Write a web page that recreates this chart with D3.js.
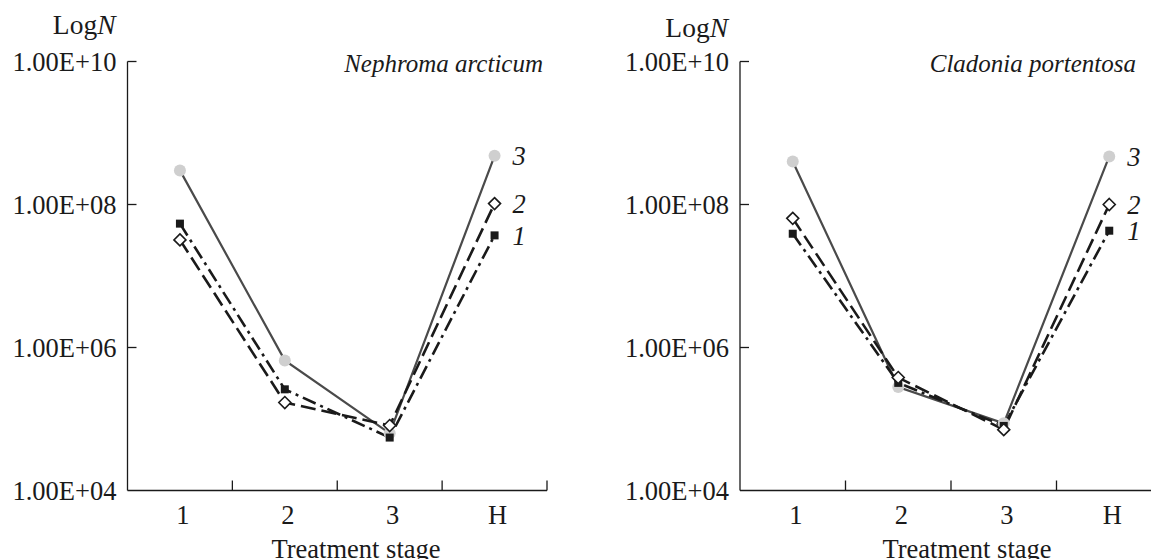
<!DOCTYPE html>
<html><head><meta charset="utf-8">
<script src="https://cdn.jsdelivr.net/npm/d3@7"></script>
<style>
body{margin:0;background:#fff;}
text{font-family:"Liberation Serif","Times New Roman",serif;fill:#1a1a1a;}
</style></head>
<body><svg id="c" width="1151" height="559"></svg>
<script>
const stages = ["1","2","3","H"];
const yTicks = [1e4, 1e6, 1e8, 1e10];
const yTickLabels = ["1.00E+04","1.00E+06","1.00E+08","1.00E+10"];
const seriesNames = ["1","2","3"];
// Nephroma arcticum
const nephroma1 = [5.4e7, 2.6e5, 5.5e4, 3.7e7];
const nephroma2 = [3.2e7, 1.7e5, 8.1e4, 1.03e8];
const nephroma3 = [3.0e8, 6.6e5, 6.3e4, 4.8e8];
// Cladonia portentosa
const cladonia1 = [3.9e7, 3.2e5, 8.0e4, 4.3e7];
const cladonia2 = [6.4e7, 3.8e5, 7.1e4, 1.0e8];
const cladonia3 = [4.0e8, 2.8e5, 8.7e4, 4.7e8];
const titles = ["Nephroma arcticum","Cladonia portentosa"];

const svg = d3.select("#c");

function panel(cfg){
  const g = svg.append("g");
  const x = d3.scaleBand().domain(stages).range([cfg.x0, cfg.x1]).padding(0);
  const y = d3.scaleLog().domain([1e4,1e10]).range([490.5, 61.5]);
  const black = "#1a1a1a";
  g.append("line").attr("x1",cfg.x0).attr("x2",cfg.x0).attr("y1",y(1e10)).attr("y2",y(1e4)).attr("stroke",black).attr("stroke-width",1.3);
  g.append("line").attr("x1",cfg.x0).attr("x2",cfg.x1).attr("y1",y(1e4)).attr("y2",y(1e4)).attr("stroke",black).attr("stroke-width",1.3);
  yTicks.forEach((t,i)=>{
    if(t>1e4) g.append("line").attr("x1",cfg.x0).attr("x2",cfg.x0+9).attr("y1",y(t)).attr("y2",y(t)).attr("stroke",black).attr("stroke-width",1.3);
    g.append("text").attr("x",cfg.x0-11).attr("y",y(t)).attr("dy","0.35em").attr("text-anchor","end").attr("font-size",26.5).text(yTickLabels[i]);
  });
  stages.forEach((s,i)=>{
    const bx = x(s)+x.bandwidth();
    g.append("line").attr("x1",bx).attr("x2",bx).attr("y1",y(1e4)).attr("y2",y(1e4)-10).attr("stroke",black).attr("stroke-width",1.3);
    g.append("text").attr("x",x(s)+x.bandwidth()/2+3).attr("y",524).attr("text-anchor","middle").attr("font-size",26.5).text(s);
  });
  g.append("text").attr("x",cfg.xlabX).attr("y",558).attr("text-anchor","middle").attr("font-size",26.5).text("Treatment stage");
  const ln = g.append("text").attr("x",cfg.x0-12).attr("y",cfg.logY).attr("text-anchor","end").attr("font-size",27.5);
  ln.append("tspan").text("Log");
  ln.append("tspan").attr("font-style","italic").text("N");
  g.append("text").attr("x",cfg.titleX).attr("y",72).attr("text-anchor","end").attr("font-size",25).attr("font-style","italic").text(cfg.title);

  const cx = s => x(s)+x.bandwidth()/2;
  const line = d3.line().x((d,i)=>cx(stages[i])).y(d=>y(d));
  g.append("path").datum(cfg.s3).attr("d",line).attr("fill","none").attr("stroke","#4a4a4a").attr("stroke-width",2.2);
  g.append("path").datum(cfg.s2).attr("d",line).attr("fill","none").attr("stroke",black).attr("stroke-width",2.6).attr("stroke-dasharray","15,6");
  g.append("path").datum(cfg.s1).attr("d",line).attr("fill","none").attr("stroke",black).attr("stroke-width",2.6).attr("stroke-dasharray","14,5,3,5");
  g.selectAll(".m3").data(cfg.s3).enter().append("circle").attr("cx",(d,i)=>cx(stages[i])).attr("cy",d=>y(d)).attr("r",6).attr("fill","#cfcfcf");
  g.selectAll(".m1").data(cfg.s1).enter().append("rect").attr("x",(d,i)=>cx(stages[i])-4).attr("y",d=>y(d)-4).attr("width",8).attr("height",8).attr("fill",black);
  g.selectAll(".m2").data(cfg.s2).enter().append("path").attr("d",(d,i)=>{const px=cx(stages[i]),py=y(d),r=6;return `M${px},${py-r}L${px+r},${py}L${px},${py+r}L${px-r},${py}Z`;}).attr("fill","#fff").attr("stroke",black).attr("stroke-width",1.6);
  const last = stages.length-1;
  [cfg.s1,cfg.s2,cfg.s3].forEach((s,i)=>{
    g.append("text").attr("x",cx(stages[last])+18).attr("y",y(s[last])).attr("dy","0.35em").attr("font-size",26.5).attr("font-style","italic").text(seriesNames[i]);
  });
}

panel({x0:127.5,x1:547,s1:nephroma1,s2:nephroma2,s3:nephroma3,title:titles[0],titleX:543,logY:34,xlabX:356});
panel({x0:740,x1:1162,s1:cladonia1,s2:cladonia2,s3:cladonia3,title:titles[1],titleX:1136,logY:37,xlabX:967});
</script></body></html>
